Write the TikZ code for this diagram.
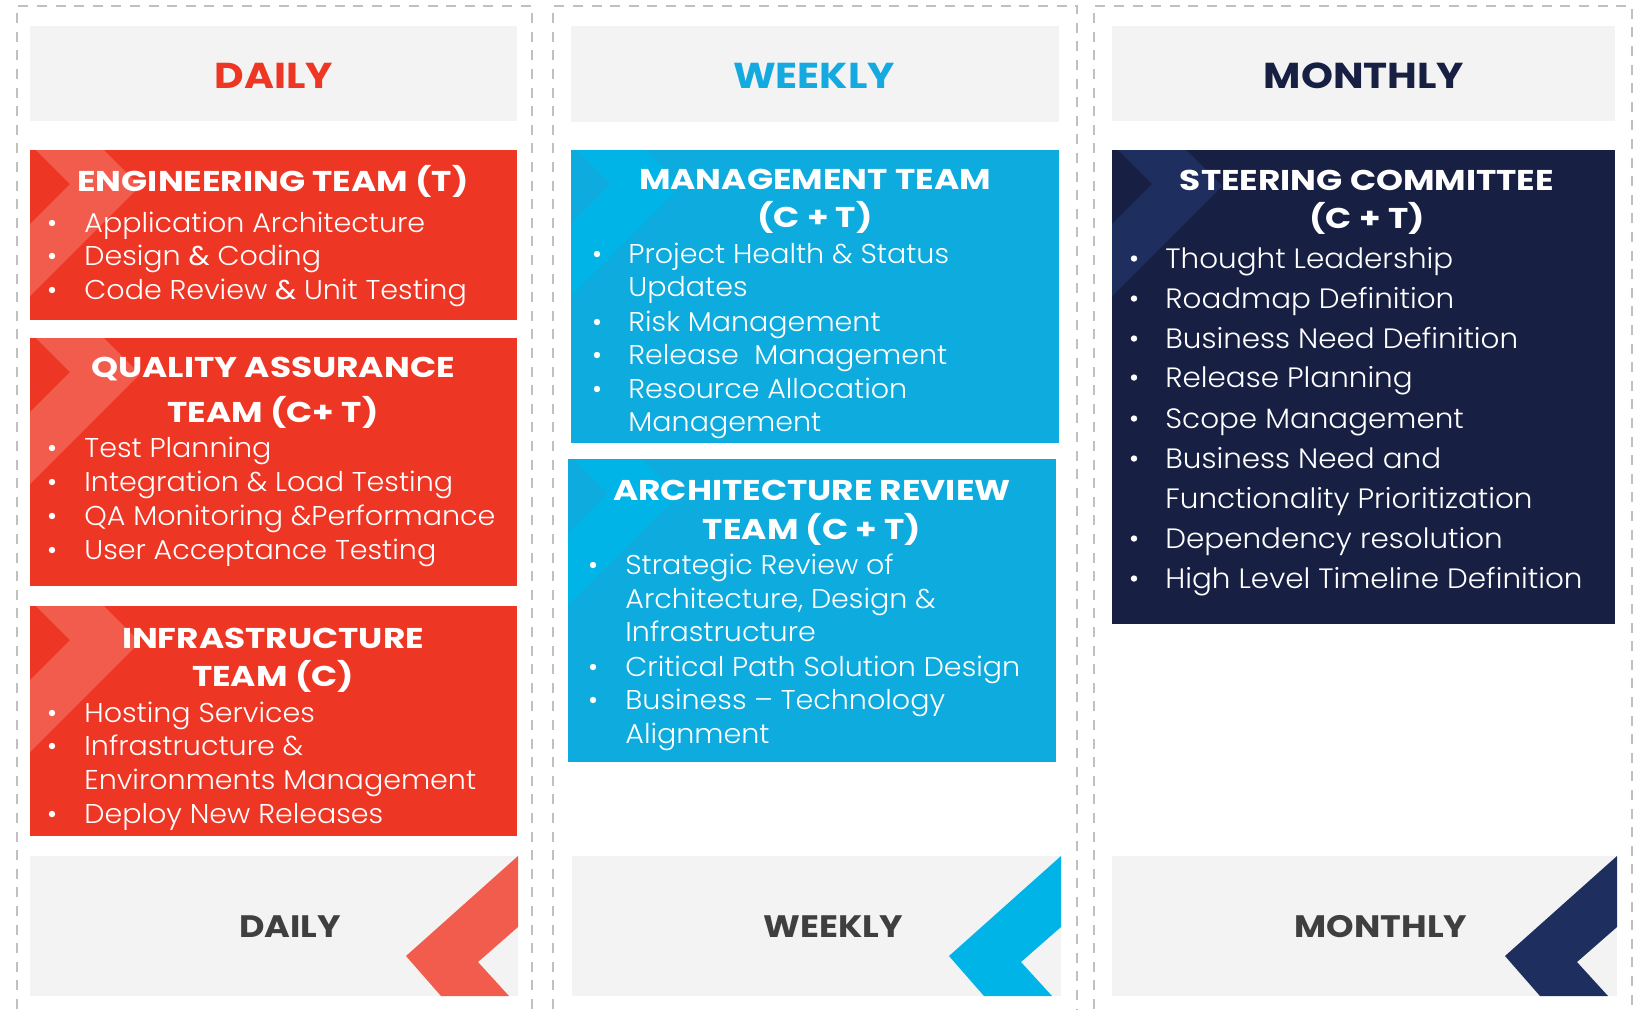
\documentclass[tikz,border=0pt]{standalone}
\usepackage{fontspec}
\setmainfont{Poppins}
\newfontfamily\lightfont{Poppins Light}[FakeStretch=1.05]
\newfontfamily\regfont{Poppins}[FakeStretch=1.05]
\newfontfamily\titlefont{Poppins}[FakeStretch=1.2]
\newfontfamily\headfont{Poppins}[FakeStretch=1.13]
\definecolor{dailyred}{HTML}{EE3625}
\definecolor{dailylight}{HTML}{F25C4C}
\definecolor{weeklyblue}{HTML}{0DABDE}
\definecolor{weeklylight}{HTML}{00B4E8}
\definecolor{weeklytext}{HTML}{14AAE0}
\definecolor{monthlynavy}{HTML}{172042}
\definecolor{monthlylight}{HTML}{1E2F5F}
\definecolor{headgray}{HTML}{F3F3F3}
\definecolor{framegray}{HTML}{C0C0C0}
\definecolor{footgray}{HTML}{3F3F3F}
\tikzset{
  frame/.style={draw=framegray, line width=1.35pt, dash pattern=on 5pt off 4.3pt},
  head/.style={anchor=base, inner sep=0pt, text=#1, font=\headfont\bfseries\fontsize{18}{21}\selectfont},
  foot/.style={anchor=base, inner sep=0pt, text=footgray, font=\headfont\bfseries\fontsize{15.5}{18}\selectfont},
  title/.style={anchor=base, inner sep=0pt, text=white, font=\titlefont\bfseries\fontsize{14.3}{17}\selectfont},
  item/.style={anchor=base west, inner sep=0pt, text=white, font=\lightfont\fontsize{13.6}{16}\selectfont},
  bigitem/.style={item, font=\lightfont\fontsize{14}{17}\selectfont}
}
% light chevron in the top left corner of a box: left, top, colour
\newcommand\topchev[3]{\fill[#3] (#1+6,#2) -- (#1+74,#2) -- (#1+110,#2+36) -- (#1,#2+146) -- (#1,#2+74) -- (#1+40,#2+34) -- cycle;}
% big chevron in the bottom right corner of a footer: right, bottom, colour
\newcommand\footchev[3]{\fill[#3] (#1,#2-140) -- (#1,#2-69) -- (#1-40,#2-34) -- (#1-9,#2) -- (#1-77,#2) -- (#1-112,#2-40) -- cycle;}
\begin{document}
\begin{tikzpicture}[x=0.5pt,y=-0.5pt]
  \useasboundingbox (0,0) rectangle (1639,1009);
  \fill[white] (0,0) rectangle (1639,1009);

  % column frames
  \draw[frame] (17,1009) -- (17,6) -- (532,6) -- (532,1009);
  \draw[frame] (553,1009) -- (553,6) -- (1077,6) -- (1077,1009);
  \draw[frame] (1094,1009) -- (1094,6) -- (1632,6) -- (1632,1009);

  % headers and footers
  \fill[headgray] (30,26) rectangle (517,121);
  \fill[headgray] (571,26) rectangle (1059,122);
  \fill[headgray] (1112,26) rectangle (1615,121);
  \node[head=dailyred] (hdaily) at (274,88) {DAILY};
  \node[head=weeklytext] (hweekly) at (814,88) {WEEKLY};
  \node[head=monthlynavy] (hmonthly) at (1364,88) {MONTHLY};

  \fill[headgray] (30,856) rectangle (518,996);
  \fill[headgray] (572,856) rectangle (1061,996);
  \fill[headgray] (1112,856) rectangle (1617,996);
  \footchev{518}{996}{dailylight}
  \footchev{1061}{996}{weeklylight}
  \footchev{1617}{996}{monthlylight}
  \node[foot] (fdaily) at (290,937) {DAILY};
  \node[foot] (fweekly) at (833,937) {WEEKLY};
  \node[foot] (fmonthly) at (1381,937) {MONTHLY};

  % daily boxes
  \fill[dailyred] (30,150) rectangle (517,320);
  \fill[dailyred] (30,338) rectangle (517,586);
  \fill[dailyred] (30,606) rectangle (517,836);
  \topchev{30}{150}{dailylight}
  \topchev{30}{338}{dailylight}
  \topchev{30}{606}{dailylight}

  \node[title] (eng) at (273,191) {ENGINEERING TEAM (T)};
  \foreach \y/\t [count=\i] in {232/Application Architecture,
      265/Design {\regfont\&} Coding,299/Code Review {\regfont\&} Unit Testing}
    \node[item] (eng\i) at (84,\y) {\t};
  \foreach \y in {232,265,299} \fill[white] (52,\y-9) circle[radius=1.6pt];

  \node[title] (qa1) at (273,377) {QUALITY ASSURANCE};
  \node[title] (qa2) at (273,422) {TEAM (C+ T)};
  \foreach \y/\t [count=\i] in {457/Test Planning,491/Integration \& Load Testing,
      525/QA Monitoring \&Performance,559/User Acceptance Testing}
    \node[item] (qa\i) at (84,\y) {\t};
  \foreach \y in {457,491,525,559} \fill[white] (52,\y-9) circle[radius=1.6pt];

  \node[title] (infra1) at (273,648) {INFRASTRUCTURE};
  \node[title] (infra2) at (273,686) {TEAM (C)};
  \foreach \y/\t [count=\i] in {722/Hosting Services,755/Infrastructure \&,
      789/Environments Management,823/Deploy New Releases}
    \node[item] (infra\i) at (84,\y) {\t};
  \foreach \y in {722,755,823} \fill[white] (52,\y-9) circle[radius=1.6pt];

  % weekly boxes
  \fill[weeklyblue] (571,150) rectangle (1059,443);
  \fill[weeklyblue] (568,459) rectangle (1056,762);
  \topchev{571}{150}{weeklylight}
  \topchev{568}{459}{weeklylight}

  \node[title] (mgmt1) at (815,189) {MANAGEMENT TEAM};
  \node[title] (mgmt2) at (815,227) {(C + T)};
  \foreach \y/\t [count=\i] in {263/Project Health \& Status,296/Updates,
      331/Risk Management,364/Release\ \ Management,398/Resource Allocation,431/Management}
    \node[item] (mgmt\i) at (628,\y) {\t};
  \foreach \y in {263,331,364,398} \fill[white] (597,\y-9) circle[radius=1.6pt];

  \node[title] (arch1) at (812,500) {ARCHITECTURE REVIEW};
  \node[title] (arch2) at (812,539) {TEAM (C + T)};
  \foreach \y/\t [count=\i] in {574/Strategic Review of,608/{Architecture, Design \&},
      641/Infrastructure,676/Critical Path Solution Design,709/Business – Technology,743/Alignment}
    \node[item] (arch\i) at (625,\y) {\t};
  \foreach \y in {574,676,709} \fill[white] (593,\y-9) circle[radius=1.6pt];

  % monthly box
  \fill[monthlynavy] (1112,150) rectangle (1615,624);
  \topchev{1112}{150}{monthlylight}

  \node[title] (steer1) at (1367,190) {STEERING COMMITTEE};
  \node[title] (steer2) at (1367,228) {(C + T)};
  \foreach \y/\t [count=\i] in {268/Thought Leadership,308/Roadmap Definition,
      348/Business Need Definition,387/Release Planning,428/Scope Management,
      468/Business Need and,508/Functionality Prioritization,548/Dependency resolution,
      588/High Level Timeline Definition}
    \node[bigitem] (steer\i) at (1165,\y) {\t};
  \foreach \y in {268,308,348,387,428,468,548,588} \fill[white] (1134,\y-9.5) circle[radius=1.6pt];
\end{tikzpicture}
\end{document}
